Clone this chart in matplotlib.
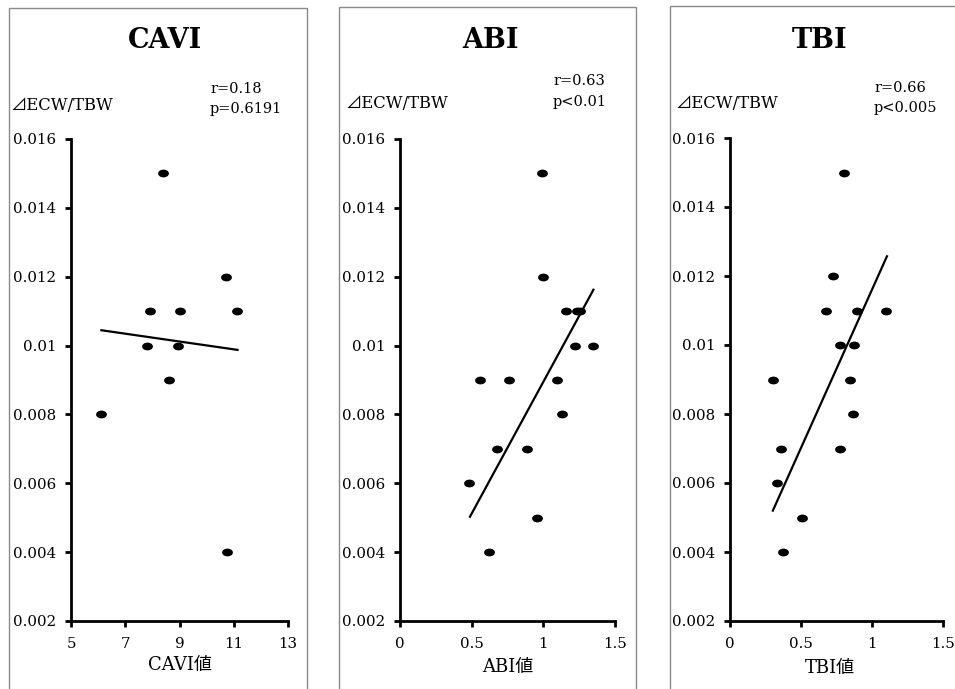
import matplotlib
matplotlib.use("Agg")
import matplotlib.pyplot as plt
from matplotlib.path import Path
from matplotlib.transforms import Affine2D
from matplotlib.patches import Rectangle

# ---------------- data ----------------
cavi_x = [6.10, 8.41, 7.92, 7.80, 9.02, 8.93, 8.63, 10.73, 11.13, 10.74]
cavi_y = [0.008, 0.015, 0.011, 0.010, 0.011, 0.010, 0.009, 0.012, 0.011, 0.004]
cavi_fit_x = [6.08, 11.18]
cavi_fit_y = [0.01045, 0.00987]

abi_x = [0.99, 1.00, 1.16, 1.24, 1.26, 1.225, 1.35, 0.56, 0.76, 1.10, 1.135,
         0.675, 0.89, 0.485, 0.955, 0.625]
abi_y = [0.015, 0.012, 0.011, 0.011, 0.011, 0.010, 0.010, 0.009, 0.009, 0.009,
         0.008, 0.007, 0.007, 0.006, 0.005, 0.004]
abi_fit_x = [0.485, 1.355]
abi_fit_y = [0.0050, 0.01165]

tbi_x = [0.804, 0.724, 0.677, 0.896, 1.103, 0.776, 0.877, 0.301, 0.846, 0.865,
         0.362, 0.778, 0.329, 0.510, 0.374]
tbi_y = [0.015, 0.012, 0.011, 0.011, 0.011, 0.010, 0.010, 0.009, 0.009, 0.008,
         0.007, 0.007, 0.006, 0.005, 0.004]
tbi_fit_x = [0.299, 1.110]
tbi_fit_y = [0.00517, 0.0126]

titles = ["CAVI", "ABI", "TBI"]
xlabels = ["CAVI値", "ABI値", "TBI値"]
stats = [("r=0.18", "p=0.6191"), ("r=0.63", "p<0.01"), ("r=0.66", "p<0.005")]
ylabel = "⊿ECW/TBW"

y_ticks = [0.002, 0.004, 0.006, 0.008, 0.010, 0.012, 0.014, 0.016]
y_ticklabels = ["0.002", "0.004", "0.006", "0.008", "0.01", "0.012", "0.014", "0.016"]
cavi_xticks = [5, 7, 9, 11, 13]
cavi_xticklabels = ["5", "7", "9", "11", "13"]
idx_xticks = [0, 0.5, 1, 1.5]
idx_xticklabels = ["0", "0.5", "1", "1.5"]

# ---------------- style ----------------
FAM = ["DejaVu Serif", "Noto Sans CJK JP", "DejaVu Sans"]
plt.rcParams['font.family'] = FAM

W, H = 955, 689
fig = plt.figure(figsize=(W / 100, H / 100), dpi=100)
fig.patch.set_facecolor("white")

def fx(px):
    return px / W

def fy(py):
    return 1 - py / H

# ellipse marker (dots slightly wider than tall)
ell = Affine2D().scale(1.0, 0.72).transform_path(Path.unit_circle())

# panel frames (left, right, top) in pixels
frames = [(9, 307, 8), (339, 636, 7), (670, 980, 6)]
for l, r, t in frames:
    fig.patches.append(Rectangle((fx(l), fy(H + 20)), fx(r - l), (H + 20 - t) / H,
                                 transform=fig.transFigure, fill=False,
                                 edgecolor="#8a8a8a", linewidth=1.0, zorder=0))

# axes rectangles in pixels: left, right, top, bottom
ax_px = [(71, 288, 139, 621), (400, 614.7, 139, 621), (730, 942.7, 138, 621)]

series = [(cavi_x, cavi_y, cavi_fit_x, cavi_fit_y, (5, 13), cavi_xticks, cavi_xticklabels),
          (abi_x, abi_y, abi_fit_x, abi_fit_y, (0, 1.5), idx_xticks, idx_xticklabels),
          (tbi_x, tbi_y, tbi_fit_x, tbi_fit_y, (0, 1.5), idx_xticks, idx_xticklabels)]

title_pos = [(165, 40), (490, 40), (820, 40)]
ylab_pos = [(10, 105), (345, 104), (675, 104)]
stat_pos = [(210, 89, 109), (553, 81, 102), (874, 88, 108)]
xlab_pos = [(180, 665), (508, 667), (830, 668)]

for i, (l, r, t, b) in enumerate(ax_px):
    ax = fig.add_axes([fx(l), fy(b), fx(r - l), (b - t) / H])
    xs, ys, fxs, fys, xlim, xt, xtl = series[i]
    ax.plot(xs, ys, linestyle="none", marker=ell, markersize=7.8,
            color="black", markeredgewidth=0, zorder=3)
    ax.plot(fxs, fys, color="black", linewidth=1.6, solid_capstyle="butt", zorder=2)
    ax.set_xlim(*xlim)
    ax.set_ylim(0.002, 0.016)
    ax.set_xticks(xt)
    ax.set_xticklabels(xtl)
    ax.set_yticks(y_ticks)
    ax.set_yticklabels(y_ticklabels)
    for s in ["top", "right"]:
        ax.spines[s].set_visible(False)
    for s in ["left", "bottom"]:
        ax.spines[s].set_linewidth(2.0)
        ax.spines[s].set_color("black")
        ax.spines[s].set_capstyle("projecting")
    ax.tick_params(axis="both", direction="out", length=4.5, width=2.0,
                   labelsize=10.8, color="black")
    ax.tick_params(axis="x", pad=7)
    ax.tick_params(axis="y", pad=6)
    ax.patch.set_alpha(0)

    tx, ty = title_pos[i]
    fig.text(fx(tx), fy(ty), titles[i], ha="center", va="center",
             fontsize=19.5, fontweight="bold", family=FAM)
    lx, ly = ylab_pos[i]
    fig.text(fx(lx), fy(ly), ylabel, ha="left", va="center", fontsize=11.8, family=FAM)
    sx, sy1, sy2 = stat_pos[i]
    fig.text(fx(sx), fy(sy1), stats[i][0], ha="left", va="center", fontsize=10.5, family=FAM)
    fig.text(fx(sx), fy(sy2), stats[i][1], ha="left", va="center", fontsize=10.5, family=FAM)
    xx, xy = xlab_pos[i]
    fig.text(fx(xx), fy(xy), xlabels[i], ha="center", va="center", fontsize=13, family=FAM)

fig.savefig("out.png", dpi=100)
